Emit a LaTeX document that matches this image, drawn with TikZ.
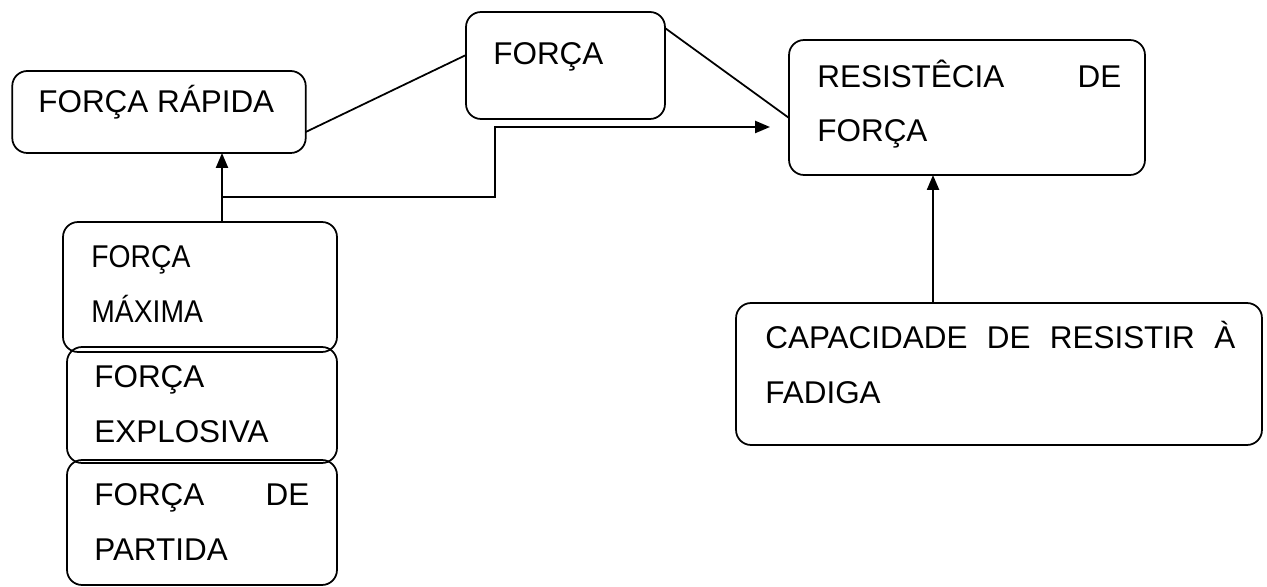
\documentclass[tikz,border=0pt]{standalone}
\usepackage{fontspec}
\setmainfont{Liberation Sans}
\usetikzlibrary{arrows.meta}
\begin{document}
\begin{tikzpicture}[x=0.02cm,y=-0.02cm,
  box/.style={draw,line width=1pt,rounded corners=0.3cm,inner sep=0pt,outer sep=0pt},
  txt/.style={anchor=base west,inner sep=0pt,align=left,font=\fontsize{17.9}{31.2}\selectfont},
  conn/.style={line width=1pt},
  arr/.style={line width=1.3pt,-{Triangle[length=0.3cm,width=0.24cm]}}]
\useasboundingbox (0,0) rectangle (1267,587);
% boxes
\node[box,minimum width=5.87cm,minimum height=1.64cm] (rapida) at (159,112) {};
\node[box,minimum width=3.98cm,minimum height=2.14cm] (forca) at (565.5,65.5) {};
\node[box,minimum width=7.12cm,minimum height=2.7cm] (resist) at (967,107.5) {};
\node[box,minimum width=5.4cm,minimum height=2.32cm] (explosiva) at (202,405) {};
\node[box,minimum width=5.4cm,minimum height=2.5cm] (partida) at (202,522.5) {};
\node[box,minimum width=5.48cm,minimum height=2.6cm] (maxima) at (200,287) {};
\node[box,minimum width=10.52cm,minimum height=2.84cm] (capacidade) at (999,374) {};
% texts (anchor = baseline of the last line)
\node[txt] (trapida) at (38,113) {FORÇA RÁPIDA};
\node[txt] (tforca) at (493,65) {FORÇA};
\node[txt] (tresist) at (817,142) {\makebox[6.08cm][s]{RESISTÊCIA DE}\\FORÇA};
\node[txt] (tmaxima) at (91,322) {\scalebox{0.9}[1]{FORÇA}\\\scalebox{0.9}[1]{MÁXIMA}};
\node[txt] (texplosiva) at (94,442) {FORÇA\\EXPLOSIVA};
\node[txt] (tpartida) at (94,560) {\makebox[4.3cm][s]{FORÇA DE}\\PARTIDA};
\node[txt] (tcapacidade) at (765,403) {\makebox[9.4cm][s]{CAPACIDADE DE RESISTIR À}\\FADIGA};
% connectors
\draw[conn] ([yshift=-0.4cm]rapida.east) -- ([yshift=0.21cm]forca.west);
\draw[conn] ([yshift=0.75cm]forca.east) -- ([yshift=-0.21cm]resist.west);
\draw[arr] ([xshift=0.44cm]maxima.north) -- ([xshift=0.44cm]maxima.north |- rapida.south);
\coordinate (j) at (222,197);
\coordinate (k) at (495,127);
\coordinate (t) at ([xshift=-0.38cm]resist.west);
\draw[arr] (j) -| (k) -- (k -| t);
\draw[arr] ([xshift=-1.32cm]capacidade.north) -- ([xshift=-1.32cm]capacidade.north |- resist.south);
\end{tikzpicture}
\end{document}
